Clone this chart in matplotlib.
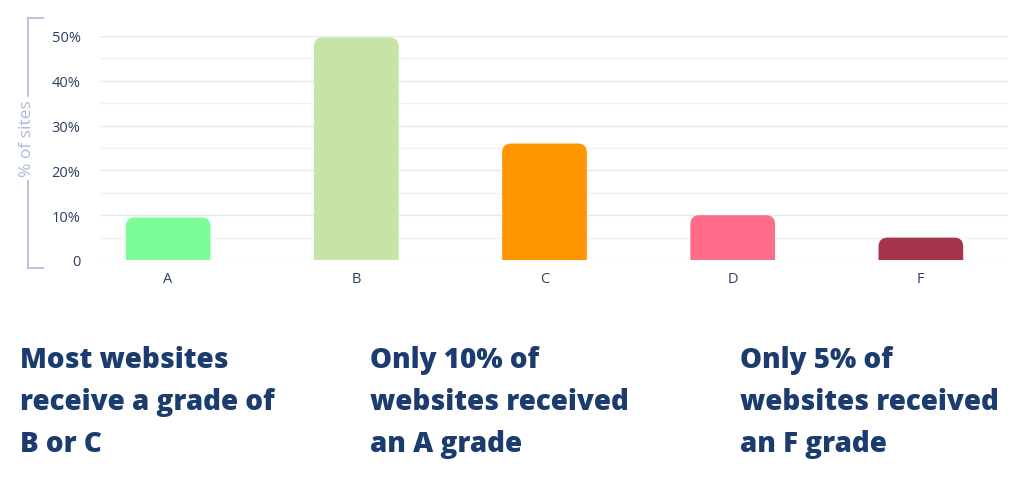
import matplotlib.pyplot as plt
from matplotlib.path import Path
from matplotlib.patches import PathPatch
from matplotlib.lines import Line2D

plt.rcParams['font.family'] = ['Open Sans', 'DejaVu Sans']

# data
grades = ["A", "B", "C", "D", "F"]
share = [9.5, 49.7, 26, 10, 5]
bar_colors = ["#7dfd98", "#c5e4a5", "#ff9500", "#ff6d8a", "#a3344a"]
ytick_vals = [0, 10, 20, 30, 40, 50]
ytick_labels = ["0", "10%", "20%", "30%", "40%", "50%"]
notes = ["Most websites\nreceive a grade of\nB or C",
         "Only 10% of\nwebsites received\nan A grade",
         "Only 5% of\nwebsites received\nan F grade"]

NAVY = "#1c3b6e"
TICK = "#2d3f60"
LAV = "#aeb7da"

W, H = 1024, 502
fig = plt.figure(figsize=(W / 100, H / 100), dpi=100)
ax = fig.add_axes([100 / W, 1 - 261 / H, 908 / W, (261 - 37) / H])

ax.set_xlim(-0.362, 4.463)
ax.set_ylim(0, 50)

# grid lines
for v in range(0, 51, 5):
    ax.axhline(v, color="#e3e8f1" if v % 10 == 0 else "#f0f2f7",
               lw=1.0, zorder=0)

# rounded-top bars, radius expressed in pixels -> data units
bw = 0.45
rpx = 9
rx = rpx * (4.463 + 0.362) / 908
ry = rpx * 50 / (261 - 37)
for i, (v, c) in enumerate(zip(share, bar_colors)):
    x0, x1 = i - bw / 2, i + bw / 2
    verts = [(x0, 0), (x0, v - ry), (x0, v), (x0 + rx, v),
             (x1 - rx, v), (x1, v), (x1, v - ry), (x1, 0), (x0, 0)]
    codes = [Path.MOVETO, Path.LINETO, Path.CURVE3, Path.CURVE3,
             Path.LINETO, Path.CURVE3, Path.CURVE3, Path.LINETO, Path.CLOSEPOLY]
    ax.add_patch(PathPatch(Path(verts, codes), facecolor=c, edgecolor="none", zorder=2))

ax.set_xticks(range(len(grades)))
ax.set_xticklabels(grades)
ax.set_yticks(ytick_vals)
ax.set_yticklabels(ytick_labels)
ax.tick_params(axis="both", length=0, labelsize=10.5, labelcolor=TICK)
ax.tick_params(axis="y", pad=14)
ax.tick_params(axis="x", pad=8)
for s in ax.spines.values():
    s.set_visible(False)

# y label with bracket
fig.text(27 / W, 1 - 139 / H, "% of sites", rotation=90, ha="center", va="center",
         fontsize=12.5, color=LAV)
bx = 28 / W
fig.add_artist(Line2D([bx, bx], [1 - 19 / H, 1 - 97 / H], color=LAV, lw=1.2))
fig.add_artist(Line2D([bx, bx], [1 - 182 / H, 1 - 269 / H], color=LAV, lw=1.2))
fig.add_artist(Line2D([bx, 43 / W], [1 - 19 / H, 1 - 19 / H], color=LAV, lw=1.2))
fig.add_artist(Line2D([bx, 43 / W], [1 - 269 / H, 1 - 269 / H], color=LAV, lw=1.2))

# bottom notes
for x, t in zip([20, 370, 740], notes):
    fig.text(x / W, 1 - 346 / H, t, ha="left", va="top", fontsize=20,
             fontweight="heavy", color=NAVY, linespacing=1.6)

fig.savefig("out.png", dpi=100, facecolor="white")
